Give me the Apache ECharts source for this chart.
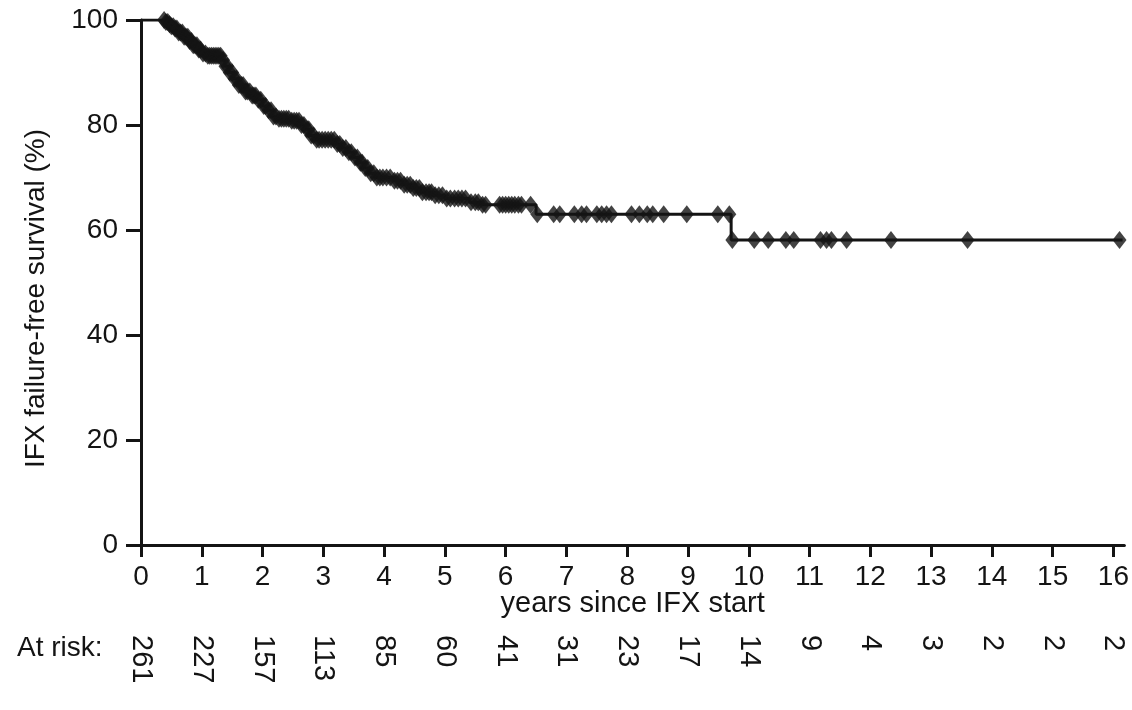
<!DOCTYPE html>
<html>
<head>
<meta charset="utf-8">
<title>IFX failure-free survival</title>
<script src="https://cdn.jsdelivr.net/npm/echarts@6/dist/echarts.min.js"></script>
<style>
  html, body { margin: 0; padding: 0; background: #ffffff; }
  #chart { width: 1132px; height: 710px; }
</style>
</head>
<body>
<div id="chart"></div>
<script>
// Kaplan–Meier estimate: [years since IFX start, survival % after the step]
const kmSteps = [
  [0, 100], [0.40, 99.6], [0.45, 99.2], [0.50, 98.8], [0.55, 98.4], [0.62, 97.6],
  [0.70, 96.8], [0.78, 96.0], [0.85, 95.2], [0.93, 94.4], [1.00, 93.6], [1.08, 93.2],
  [1.32, 92.4], [1.38, 91.2], [1.44, 90.0], [1.52, 88.8], [1.60, 87.6], [1.70, 86.4],
  [1.80, 85.6], [1.90, 84.8], [2.00, 83.6], [2.08, 82.8], [2.16, 81.6], [2.25, 81.2],
  [2.45, 80.8], [2.62, 80.0], [2.70, 79.2], [2.78, 78.0], [2.86, 77.2], [3.20, 76.4],
  [3.30, 75.6], [3.40, 74.8], [3.50, 73.8], [3.58, 72.8], [3.66, 71.8], [3.75, 70.8],
  [3.85, 70.0], [4.15, 69.4], [4.30, 68.6], [4.45, 68.0], [4.60, 67.2], [4.80, 66.6],
  [5.00, 66.0], [5.40, 65.3], [5.60, 64.8], [6.50, 63.0], [9.71, 58.1], [16.15, 58.1]
];

// Censored observations (years)
const censorTimes = [
  0.38, 0.41, 0.44, 0.47, 0.50, 0.53, 0.56, 0.59, 0.62, 0.65, 0.68, 0.71, 0.74,
  0.77, 0.80, 0.83, 0.86, 0.89, 0.92, 0.95, 0.98, 1.02, 1.06, 1.10, 1.13, 1.16,
  1.19, 1.22, 1.25, 1.28, 1.31, 1.35, 1.39, 1.42, 1.46, 1.50, 1.54, 1.57, 1.61,
  1.65, 1.68, 1.72, 1.75, 1.79, 1.83, 1.86, 1.89, 1.93, 1.97, 2.02, 2.05, 2.10,
  2.14, 2.18, 2.22, 2.27, 2.31, 2.35, 2.39, 2.43, 2.48, 2.52, 2.56, 2.60, 2.64,
  2.68, 2.73, 2.76, 2.80, 2.84, 2.89, 2.93, 2.98, 3.03, 3.08, 3.13, 3.18, 3.23,
  3.27, 3.32, 3.37, 3.42, 3.46, 3.52, 3.56, 3.61, 3.64, 3.69, 3.73, 3.78, 3.83,
  3.88, 3.93, 3.98, 4.04, 4.10, 4.17, 4.22, 4.27, 4.33, 4.38, 4.43, 4.48, 4.53,
  4.58, 4.63, 4.69, 4.74, 4.78, 4.84, 4.90, 4.96, 5.03, 5.09, 5.16, 5.22, 5.28,
  5.34, 5.43, 5.50, 5.55, 5.62, 5.67, 5.90, 5.95, 6.00, 6.05, 6.10, 6.15, 6.21,
  6.26, 6.41, 6.52, 6.79, 6.89, 7.13, 7.25, 7.33, 7.50, 7.58, 7.66, 7.74, 8.07,
  8.20, 8.33, 8.42, 8.60, 8.98, 9.49, 9.68, 9.73, 10.09, 10.32, 10.61, 10.74,
  11.18, 11.28, 11.36, 11.61, 12.34, 13.60, 16.10
];

// Number at risk at each whole year
const riskYears = [0, 1, 2, 3, 4, 5, 6, 7, 8, 9, 10, 11, 12, 13, 14, 15, 16];
const atRisk = [261, 227, 157, 113, 85, 60, 41, 31, 23, 17, 14, 9, 4, 3, 2, 2, 2];

const yTicks = [0, 20, 40, 60, 80, 100];

// Survival value in force at time t (right-continuous step function)
function survivalAt(t) {
  let s = kmSteps[0][1];
  for (const [time, value] of kmSteps) {
    if (time <= t) s = value; else break;
  }
  return s;
}

const censorPoints = censorTimes.map(t => [t, survivalAt(t)]);

const ink = '#141414';
const font = 'Liberation Sans, Arial, Helvetica, sans-serif';
const xMax = 16.18;

const chart = echarts.init(document.getElementById('chart'), null, { renderer: 'canvas' });

chart.setOption({
  animation: false,
  backgroundColor: '#ffffff',
  grid: { left: 141, right: 0, top: 20, bottom: 165, containLabel: false },
  xAxis: [
    {
      type: 'value',
      min: 0,
      max: xMax,
      interval: 1,
      name: 'years since IFX start',
      nameLocation: 'middle',
      nameGap: 44,
      nameMoveOverlap: false,
      nameTextStyle: { fontFamily: font, fontSize: 29, color: ink },
      axisLine: { show: true, onZero: false, lineStyle: { color: ink, width: 3 } },
      axisTick: { show: true, length: 12, lineStyle: { color: ink, width: 3 } },
      axisLabel: {
        margin: 18,
        fontFamily: font,
        fontSize: 28,
        color: ink,
        showMaxLabel: false,
        formatter: v => (Number.isInteger(v) ? String(v) : '')
      },
      splitLine: { show: false }
    },
    {
      // number-at-risk row, aligned with the year ticks
      type: 'value',
      position: 'bottom',
      offset: 90,
      min: 0,
      max: xMax,
      interval: 1,
      axisLine: { show: false },
      axisTick: { show: false },
      splitLine: { show: false },
      axisLabel: {
        rotate: -90,
        margin: 0,
        fontFamily: font,
        fontSize: 29,
        color: ink,
        showMaxLabel: false,
        formatter: v => {
          const i = riskYears.indexOf(v);
          return i >= 0 ? String(atRisk[i]) : '';
        }
      }
    }
  ],
  yAxis: {
    type: 'value',
    min: yTicks[0],
    max: yTicks[yTicks.length - 1],
    interval: yTicks[1] - yTicks[0],
    name: 'IFX failure-free survival (%)',
    nameLocation: 'middle',
    nameGap: 91,
    nameMoveOverlap: false,
    nameTextStyle: { fontFamily: font, fontSize: 28, color: ink, padding: [0, 32, 0, 0] },
    axisLine: { show: true, lineStyle: { color: ink, width: 3 } },
    axisTick: { show: true, length: 15, lineStyle: { color: ink, width: 3 } },
    axisLabel: { margin: 23, fontFamily: font, fontSize: 28, color: ink },
    splitLine: { show: false }
  },
  graphic: [
    {
      type: 'text',
      left: 17,
      top: 634,
      style: { text: 'At risk:', fontFamily: font, fontSize: 28, fill: ink }
    }
  ],
  series: [
    {
      name: 'Kaplan–Meier',
      type: 'line',
      step: 'end',
      data: kmSteps,
      symbol: 'none',
      lineStyle: { color: ink, width: 3 },
      z: 2
    },
    {
      name: 'Censored',
      type: 'scatter',
      data: censorPoints,
      symbol: 'diamond',
      symbolSize: [14, 18],
      itemStyle: { color: ink },
      z: 3
    }
  ]
});
</script>
</body>
</html>
